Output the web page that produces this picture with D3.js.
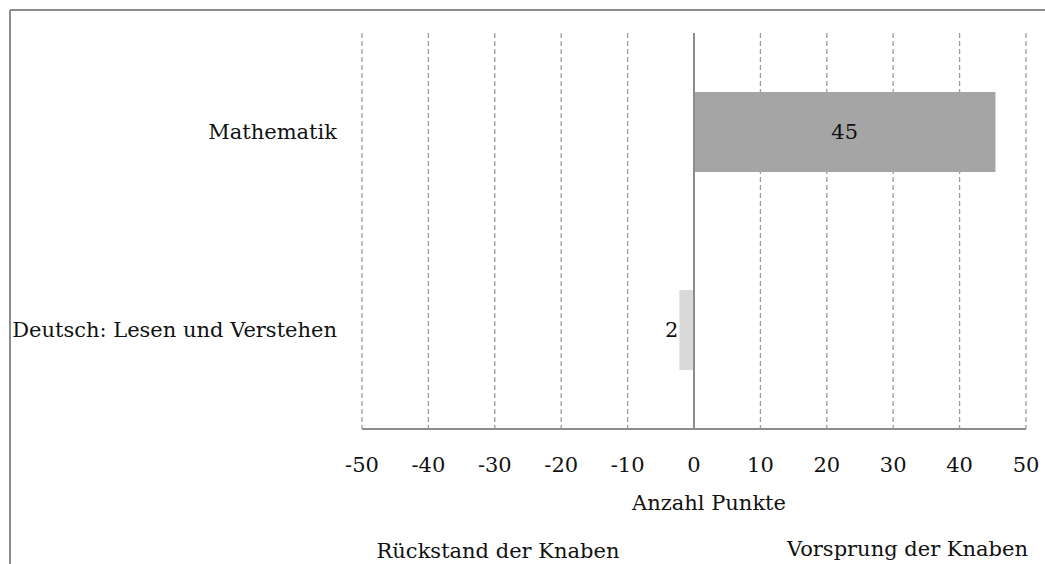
<!DOCTYPE html>
<html lang="de">
<head>
  <meta charset="UTF-8">
  <title>Vorsprung der Knaben</title>
  <style>
    body { margin: 0; background: #fff; }
    svg text { font-family: "DejaVu Serif", "Liberation Serif", serif; font-size: 21px; fill: #111; }
    .grid line { stroke: #9a9a9a; stroke-width: 1.3; stroke-dasharray: 5 3; }
    .axisline { stroke: #8c8c8c; stroke-width: 2; }
  </style>
</head>
<body>
  <svg width="1045" height="564"></svg>

  <script src="https://d3js.org/d3.v7.min.js"></script>
  <script>
    const categories = ["Mathematik", "Deutsch: Lesen und Verstehen"];
    const values = [45.4, -2.2];
    const barColors = ["#a5a5a5", "#d9d9d9"];
    const ticks = [-50, -40, -30, -20, -10, 0, 10, 20, 30, 40, 50];

    const svg = d3.select("svg");

    // outer frame (only top and left visible)
    svg.append("line").attr("class", "axisline")
       .attr("x1", 10).attr("x2", 1045).attr("y1", 10).attr("y2", 10);
    svg.append("line").attr("class", "axisline")
       .attr("x1", 10).attr("x2", 10).attr("y1", 10).attr("y2", 564);

    const x = d3.scaleLinear().domain([-50, 50]).range([362, 1026]);
    const y = d3.scaleBand().domain(categories).range([33, 429]).paddingInner(0.596).paddingOuter(0.298);

    // dashed vertical grid
    svg.append("g").attr("class", "grid")
       .selectAll("line")
       .data(ticks.filter(t => t !== 0))
       .join("line")
       .attr("x1", d => x(d)).attr("x2", d => x(d))
       .attr("y1", 33).attr("y2", 429);

    // bars
    svg.selectAll(".bar")
       .data(values)
       .join("rect")
       .attr("class", "bar")
       .attr("x", d => x(Math.min(0, d)))
       .attr("width", d => Math.abs(x(d) - x(0)))
       .attr("y", (d, i) => y(categories[i]))
       .attr("height", y.bandwidth())
       .attr("fill", (d, i) => barColors[i]);

    // zero line and bottom axis
    svg.append("line").attr("class", "axisline")
       .attr("x1", x(0)).attr("x2", x(0)).attr("y1", 33).attr("y2", 429);
    svg.append("line").attr("class", "axisline")
       .attr("x1", x(-50)).attr("x2", x(50)).attr("y1", 429).attr("y2", 429);

    // value labels
    svg.selectAll(".vlabel")
       .data(values)
       .join("text")
       .attr("class", "vlabel")
       .attr("x", d => d > 0 ? (x(0) + x(d)) / 2 : x(d) - 1)
       .attr("y", (d, i) => y(categories[i]) + y.bandwidth() / 2)
       .attr("dy", "0.35em")
       .attr("text-anchor", d => d > 0 ? "middle" : "end")
       .text(d => Math.round(Math.abs(d)));

    // category labels
    svg.selectAll(".clabel")
       .data(categories)
       .join("text")
       .attr("x", 337)
       .attr("y", d => y(d) + y.bandwidth() / 2)
       .attr("dy", "0.35em")
       .attr("text-anchor", "end")
       .text(d => d);

    // tick labels
    svg.selectAll(".tlabel")
       .data(ticks)
       .join("text")
       .attr("x", d => x(d))
       .attr("y", 465)
       .attr("dy", "0.35em")
       .attr("text-anchor", "middle")
       .text(d => d);

    svg.append("text").attr("x", 709).attr("y", 503).attr("dy", "0.35em")
       .attr("text-anchor", "middle").text("Anzahl Punkte");
    svg.append("text").attr("x", 498).attr("y", 551).attr("dy", "0.35em")
       .attr("text-anchor", "middle").text("Rückstand der Knaben");
    svg.append("text").attr("x", 1028).attr("y", 549).attr("dy", "0.35em")
       .attr("text-anchor", "end").text("Vorsprung der Knaben");
  </script>
</body>
</html>
